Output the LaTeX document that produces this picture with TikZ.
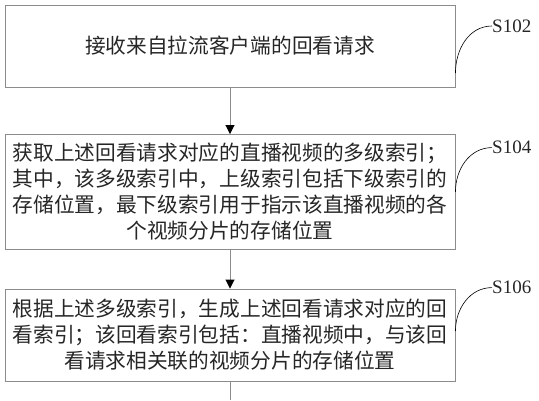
\documentclass[tikz,border=0pt]{standalone}
\usepackage{fontspec}
\setmainfont{Liberation Serif}
\newfontfamily\cjk{Noto Sans CJK SC}
\usetikzlibrary{arrows.meta}

\begin{document}
\begin{tikzpicture}[x=1pt,y=1pt]
\tikzstyle{every node}+=[inner sep=0pt]
\tikzstyle{stepbox}=[draw=black!45,line width=0.9pt,minimum width=450pt,align=center,text=black!85,font=\cjk\fontsize{20.7}{26}\selectfont]
\tikzstyle{flow}=[draw=black!45,line width=0.9pt,-{Triangle[length=9pt,width=9pt,black]}]
\tikzstyle{steplabel}=[anchor=west,text=black!85,font=\fontsize{19}{19}\selectfont]
\tikzstyle{tag}=[draw=black,line width=0.6pt]
\useasboundingbox (0,0) rectangle (539,400);
\node [stepbox,minimum height=82pt] (s102) at (230,354) {接收来自拉流客户端的回看请求};
\node [stepbox,minimum height=114.5pt] (s104) at (230,208.25) {获取上述回看请求对应的直播视频的多级索引；\\其中，该多级索引中，上级索引包括下级索引的\\存储位置，最下级索引用于指示该直播视频的各\\个视频分片的存储位置};
\node [stepbox,minimum height=92pt] (s106) at (230,65) {根据上述多级索引，生成上述回看请求对应的回\\看索引；该回看索引包括：直播视频中，与该回\\看请求相关联的视频分片的存储位置};
\coordinate (out) at (230,0);
\draw [flow] (s102) -- (s104);
\draw [flow] (s104) -- (s106);
\draw [draw=black!45,line width=0.9pt] (s106) -- (out);
\node [steplabel] (l102) at (492,374) {S102};
\node [steplabel] (l104) at (492,252.4) {S104};
\node [steplabel] (l106) at (492,112.4) {S106};
\coordinate (c102) at ([yshift=-27pt]s102.east);
\coordinate (c104) at (s104.east);
\coordinate (c106) at ([yshift=4pt]s106.east);
\draw [tag] (c102) to[out=90,in=180] (l102.west);
\draw [tag] (c104) to[out=90,in=180] (l104.west);
\draw [tag] (c106) to[out=90,in=180] (l106.west);
\end{tikzpicture}
\end{document}
